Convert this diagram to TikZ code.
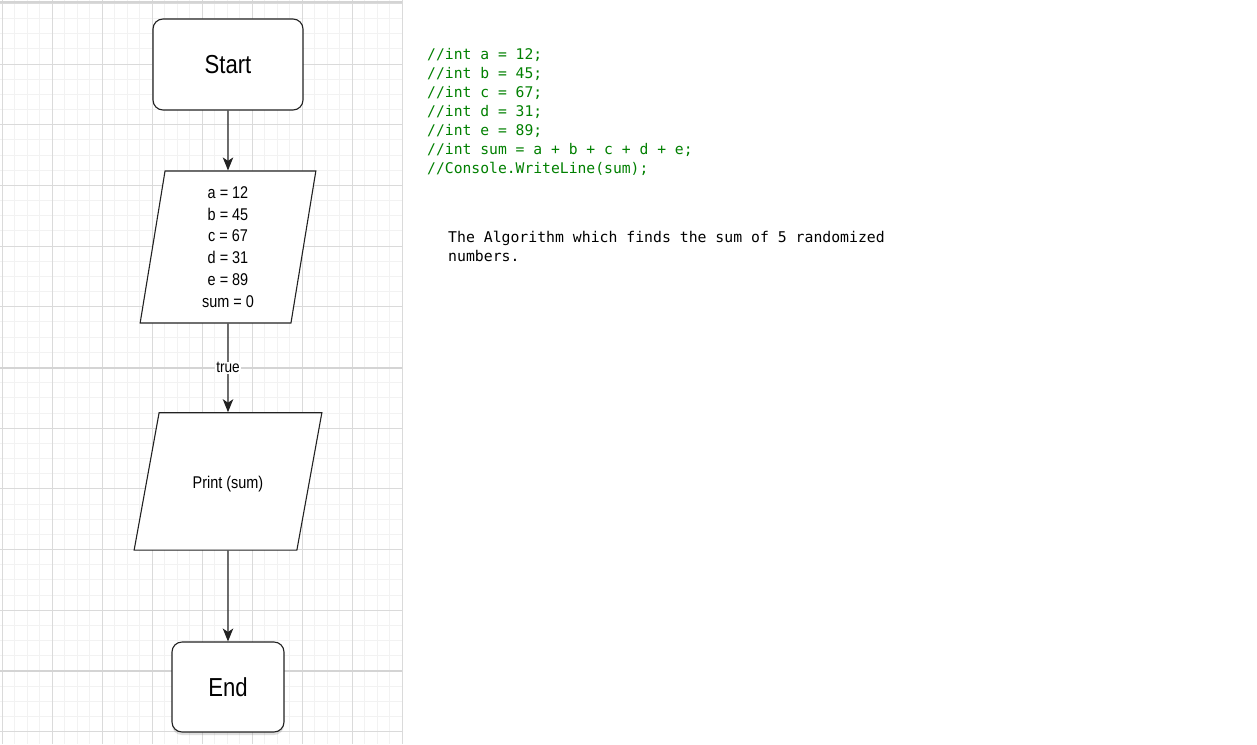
\documentclass[tikz,border=0pt]{standalone}
\usepackage{fontspec}
\setmonofont{DejaVu Sans Mono}
\newfontfamily\chartfont[FakeStretch=0.85]{Liberation Sans}
\usetikzlibrary{arrows.meta,shapes.geometric,shadows}
\definecolor{gridminor}{RGB}{242,242,242}
\definecolor{gridmajor}{RGB}{218,218,218}
\definecolor{gridpage}{RGB}{212,212,212}
\definecolor{codegreen}{RGB}{0,128,0}
\definecolor{edgegray}{RGB}{34,34,34}

\begin{document}
\begin{tikzpicture}[x=1pt,y=-1pt]
\tikzstyle{terminal}=[draw=edgegray,line width=1.1pt,rounded corners=10pt,fill=white,
  font=\chartfont\fontsize{26}{26}\selectfont]
\tikzstyle{io}=[draw=edgegray,line width=1.1pt,trapezium,trapezium stretches body,
  fill=white,inner xsep=0pt,align=center,font=\chartfont\fontsize{17}{21.8}\selectfont]
\tikzstyle{flow}=[draw=edgegray,line width=1.1pt,-{Stealth[length=13pt,width=10.5pt,inset=3.5pt]}]

\useasboundingbox (0,0) rectangle (1257,744);
\fill[white] (0,0) rectangle (1257,744);

% grid behind the flowchart
\foreach \i in {0,...,32}
  \draw[gridminor,line width=1pt] ({2+12.5*\i},0) -- ({2+12.5*\i},744);
\foreach \j in {0,...,48}
  \draw[gridminor,line width=1pt] (0,{3.3+15.175*\j}) -- (402,{3.3+15.175*\j});
\foreach \i in {0,...,8}
  \draw[gridmajor,line width=1pt] ({2+50*\i},0) -- ({2+50*\i},744);
\foreach \j in {0,...,12}
  \draw[gridmajor,line width=1pt] (0,{3.3+60.7*\j}) -- (402,{3.3+60.7*\j});
\foreach \y in {1.5,367.5,671}
  \draw[gridpage,line width=2pt] (0,\y) -- (402,\y);

% flowchart
\node[terminal,minimum width=150,minimum height=91] (start) at (228,64.5) {Start};
\node[io,trapezium left angle=80.7,trapezium right angle=99.3,
  minimum width=175.7,inner ysep=15.5] (vars) at (228,247)
  {a = 12\\b = 45\\c = 67\\d = 31\\e = 89\\sum = 0};
\node[io,trapezium left angle=79.7,trapezium right angle=100.3,
  minimum width=187.7,text height=16,text depth=1,inner ysep=60.15] (print) at (228,481.4)
  {Print (sum)};
\node[terminal,minimum width=112,minimum height=90,
  drop shadow={shadow xshift=0pt,shadow yshift=-3pt,opacity=.25}] (end) at (228,687) {End};

\draw[flow] (start) -- (vars);
\draw[flow] (vars) -- node[fill=white,inner sep=1pt,
  font=\chartfont\fontsize{16}{16}\selectfont] (truelabel) {true} (print);
\draw[flow] (print) -- (end);

% commented code and note
\node[anchor=north west,inner sep=0pt,align=left,text=codegreen,
  font=\ttfamily\fontsize{14.7}{19}\selectfont] (code) at (427,48)
  {//int a = 12;\\//int b = 45;\\//int c = 67;\\//int d = 31;\\//int e = 89;\\
   //int sum = a + b + c + d + e;\\//Console.WriteLine(sum);};
\node[anchor=north west,inner sep=0pt,align=left,
  font=\ttfamily\fontsize{14.8}{19}\selectfont] (note) at (448,230.7)
  {The Algorithm which finds the sum of 5 randomized\\numbers.};
\end{tikzpicture}
\end{document}
